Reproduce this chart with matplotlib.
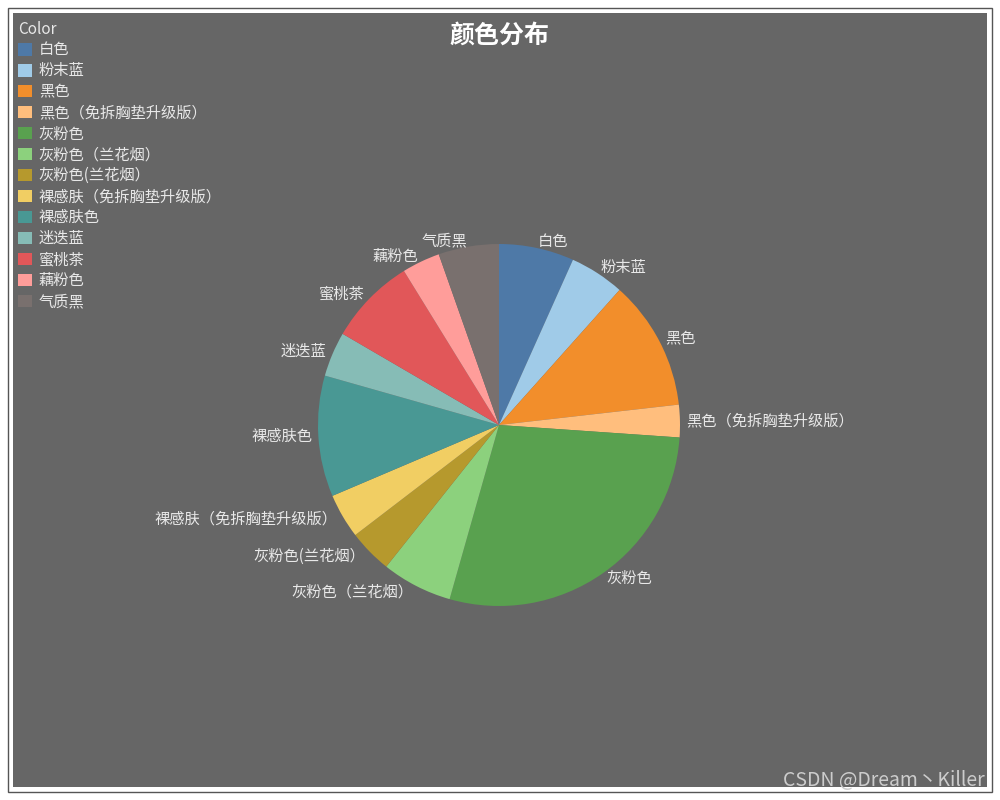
import matplotlib
matplotlib.use("Agg")
import matplotlib.pyplot as plt
from matplotlib.patches import Rectangle

plt.rcParams['font.family'] = ['Noto Sans CJK SC', 'DejaVu Sans']

BG = '#666666'
TEXT = '#e8e8e8'

colors_names = ['白色', '粉末蓝', '黑色', '黑色（免拆胸垫升级版）', '灰粉色',
                '灰粉色（兰花烟）', '灰粉色(兰花烟）', '裸感肤（免拆胸垫升级版）',
                '裸感肤色', '迷迭蓝', '蜜桃茶', '藕粉色', '气质黑']
shares = [6.7, 4.9, 11.6, 2.9, 28.3, 6.3, 3.9, 4.0, 10.8, 4.0, 7.8, 3.4, 5.4]
palette = ['#4e79a7', '#a0cbe8', '#f28e2b', '#ffbe7d', '#59a14f', '#8cd17d',
           '#b6992d', '#f1ce63', '#499894', '#86bcb6', '#e15759', '#ff9d9a',
           '#79706e']

fig = plt.figure(figsize=(10, 8), dpi=100, facecolor='white')

# outer frame + dark panel (behind the axes)
fig.patches.append(Rectangle((0.008, 0.01), 0.984, 0.98, transform=fig.transFigure,
                             facecolor='white', edgecolor='#555555', linewidth=1,
                             zorder=-10))
fig.patches.append(Rectangle((0.013, 0.016), 0.974, 0.968, transform=fig.transFigure,
                             facecolor=BG, edgecolor='none', zorder=-9))

ax = fig.add_axes([0.318, 0.2425, 0.362, 0.4525])
ax.set_facecolor('none')
wedges, texts = ax.pie(
    shares,
    labels=colors_names,
    colors=palette,
    startangle=90,
    counterclock=False,
    labeldistance=1.035,
    radius=1,
    textprops={'color': TEXT, 'fontsize': 11},
)
ax.set_xlim(-1, 1)
ax.set_ylim(-1, 1)
ax.axis('off')

fig.text(0.499, 0.956, '颜色分布', ha='center', va='center',
         fontsize=18, fontweight='bold', color='white')

leg = fig.legend(wedges, colors_names, title='Color', loc='upper left',
                 bbox_to_anchor=(0.012, 0.982), frameon=False,
                 fontsize=11, title_fontsize=11, handlelength=0.9,
                 handleheight=0.9, handletextpad=0.45, labelspacing=0.26,
                 borderaxespad=0, alignment='left')
for t in leg.get_texts():
    t.set_color(TEXT)
leg.get_title().set_color(TEXT)

fig.text(0.985, 0.024, 'CSDN @Dream丶Killer', ha='right', va='center',
         fontsize=14, color='#cccccc')

fig.savefig('out.png', dpi=100, facecolor='white')
